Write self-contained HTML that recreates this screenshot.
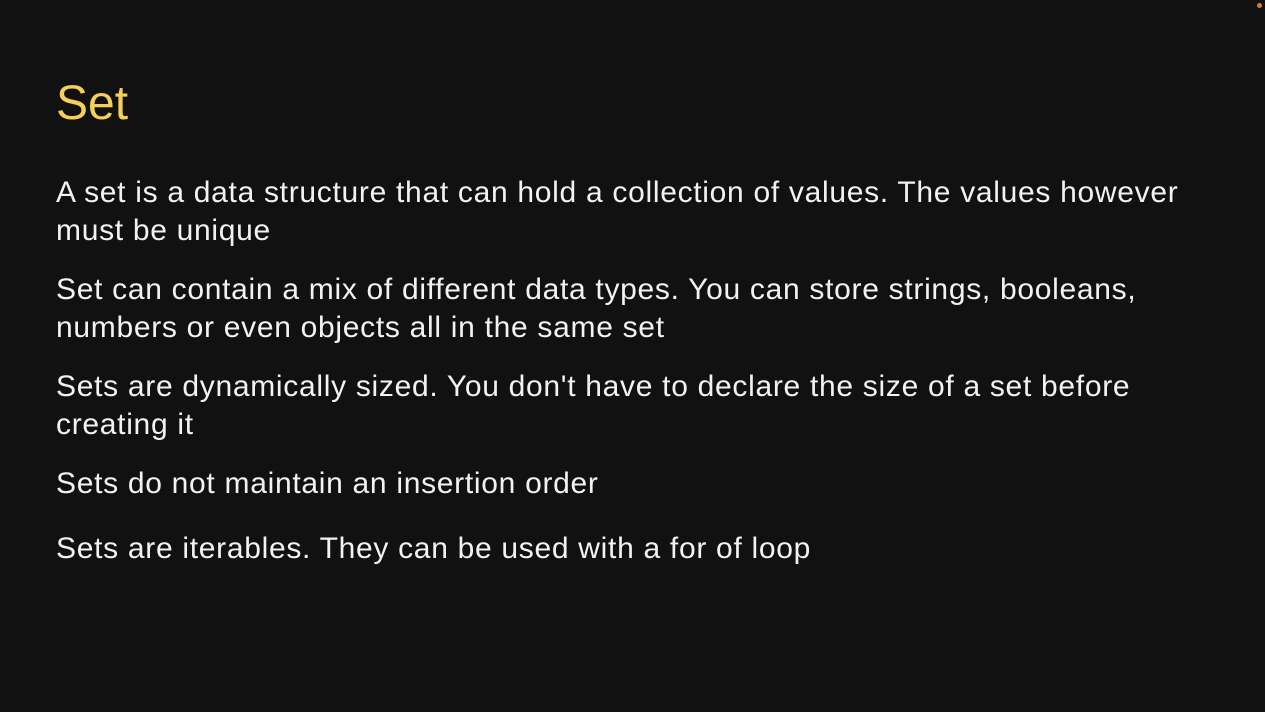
<!DOCTYPE html>
<html><head><meta charset="utf-8"><style>
html,body{margin:0;padding:0;}
body{width:1265px;height:712px;background:#111111;position:relative;overflow:hidden;font-family:"Liberation Sans",Arial,sans-serif;}
.t{position:absolute;left:56px;top:76px;font-size:48px;line-height:56px;color:#f4cf5a;white-space:nowrap;}
.l{position:absolute;left:56px;font-size:30px;line-height:38px;color:#f2f2f2;white-space:nowrap;letter-spacing:0.7px;}
.dot{position:absolute;left:1257px;top:3px;width:5px;height:5px;border-radius:50%;background:#e07a2a;}
</style></head><body>
<div class="dot"></div>
<div class="t">Set</div>
<div class="l" style="top:174px">A set is a data structure that can hold a collection of values. The values however</div>
<div class="l" style="top:212px">must be unique</div>
<div class="l" style="top:271px">Set can contain a mix of different data types. You can store strings, booleans,</div>
<div class="l" style="top:309px">numbers or even objects all in the same set</div>
<div class="l" style="top:368px">Sets are dynamically sized. You don't have to declare the size of a set before</div>
<div class="l" style="top:406px">creating it</div>
<div class="l" style="top:465px">Sets do not maintain an insertion order</div>
<div class="l" style="top:530px">Sets are iterables. They can be used with a for of loop</div>
</body></html>
